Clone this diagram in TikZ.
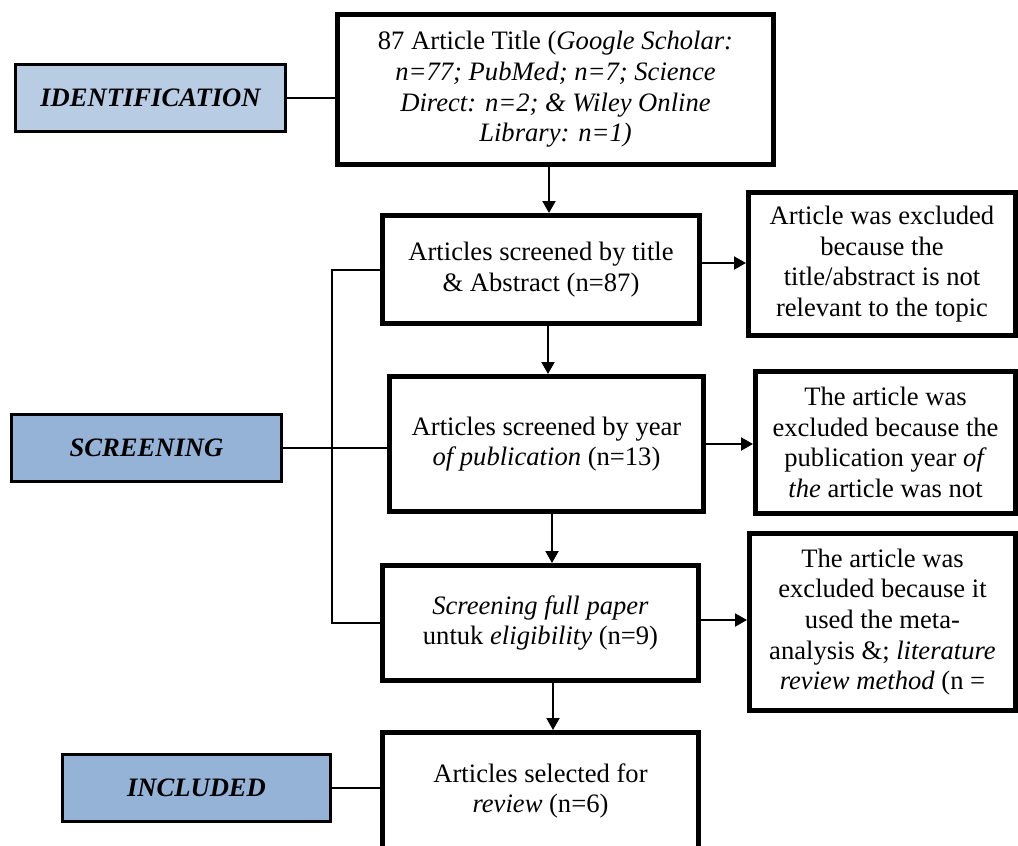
\documentclass[tikz,border=0pt]{standalone}
\usepackage{fontspec}
\setmainfont{Liberation Serif}
\usetikzlibrary{arrows.meta}
\definecolor{phaseA}{HTML}{B8CCE4}
\definecolor{phaseB}{HTML}{95B3D7}

\begin{document}
\begin{tikzpicture}[x=0.5pt,y=-0.5pt,
    stepbox/.style={draw,line width=2.5pt,align=center,inner sep=0pt,font=\fontsize{13.3}{15.3}\selectfont},
    phase/.style={draw,line width=1.5pt,inner sep=0pt,minimum width=135pt,minimum height=33.5pt,font=\fontsize{13.3}{15.3}\selectfont\bfseries\itshape},
    arr/.style={-{Triangle[length=6pt,width=6.5pt]},line width=1pt},
    link/.style={line width=1pt}]
  \clip (0,0) rectangle (1018,846);
  % phases
  \node[phase,fill=phaseA] (p1) at (150.5,98) {IDENTIFICATION};
  \node[phase,fill=phaseB] (p2) at (146.5,448) {SCREENING};
  \node[phase,fill=phaseB,minimum width=134pt] (p3) at (196.5,788) {INCLUDED};
  % main flow
  \node[stepbox,minimum width=218pt,minimum height=75pt] (a) at (555.5,89.5) {87 Article Title (\textit{Google Scholar:}\\ \textit{n=77; PubMed; n=7; Science}\\ \textit{Direct: n=2; \& Wiley Online}\\ \textit{Library: n=1)}};
  \node[stepbox,minimum width=158.5pt,minimum height=54pt] (b) at (541,269.5) {Articles screened by title\\ \& Abstract (n=87)};
  \node[stepbox,minimum width=157pt,minimum height=67.5pt] (c) at (546.5,444) {Articles screened by year\\ \textit{of publication} (n=13)};
  \node[stepbox,minimum width=158pt,minimum height=57.5pt] (d) at (540.5,623) {\textit{Screening full paper}\\ untuk \textit{eligibility} (n=9)};
  \node[stepbox,minimum width=158pt,minimum height=58.5pt] (e) at (540.5,791) {Articles selected for\\ \textit{review} (n=6)};
  % exclusions
  \node[stepbox,minimum width=133.5pt,minimum height=71.5pt] (f) at (882,264) {Article was excluded\\ because the\\ title/abstract is not\\ relevant to the topic};
  \node[stepbox,minimum width=130pt,minimum height=71pt] (g) at (885.5,442.5) {The article was\\ excluded because the\\ publication year \textit{of}\\ \textit{the} article was not};
  \node[stepbox,minimum width=133pt,minimum height=88.5pt] (h) at (882.5,622) {The article was\\ excluded because it\\ used the meta-\\ analysis \&; \textit{literature}\\ \textit{review method} (n =};
  \coordinate (s) at (332,446);
  % connectors
  \draw[link] (p1.east) -- (p1.east -| a.west);
  \draw[link] (p2.east) -- (p2.east -| c.west);
  \draw[link] (p3.east) -- (p3.east -| e.west);
  \draw[link] (b.west) -- (b.west -| s) -- (d.west -| s) -- (d.west);
  \draw[arr] ([xshift=-3.25pt]a.south) -- ([xshift=-3.25pt]a.south |- b.north);
  \draw[arr] ([xshift=3.5pt]b.south) -- ([xshift=3.5pt]b.south |- c.north);
  \draw[arr] ([xshift=2.75pt]c.south) -- ([xshift=2.75pt]c.south |- d.north);
  \draw[arr] ([xshift=6.25pt]d.south) -- ([xshift=6.25pt]d.south |- e.north);
  \draw[arr] ([yshift=3.25pt]b.east) -- ([yshift=3.25pt]b.east -| f.west);
  \draw[arr] (c.east) -- (c.east -| g.west);
  \draw[arr] ([yshift=1.5pt]d.east) -- ([yshift=1.5pt]d.east -| h.west);
\end{tikzpicture}
\end{document}
